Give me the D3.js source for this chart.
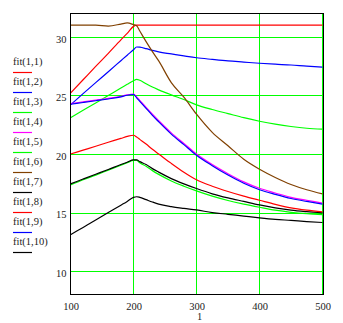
<!DOCTYPE html>
<html><head><meta charset="utf-8">
<script src="https://cdn.jsdelivr.net/npm/d3@7"></script>
<style>body{margin:0;background:#fff}svg{display:block}text{font-family:"Liberation Serif","DejaVu Serif",serif;fill:#222}</style>
</head><body><svg id="c" width="343" height="323"></svg>
<script>
const xs = [100,120,140,160,180,190,200,205,210,220,230,240,260,280,300,325,350,375,400,425,450,475,500];
const fit1 = [25.2,26.34,27.48,28.6,29.75,30.3,30.9,31,31,31,31,31,31,31,31,31,31,31,31,31,31,31,31];
const fit2 = [24.2,25.16,26.1,27.03,27.97,28.44,28.9,29.14,29.12,29.0,28.85,28.72,28.55,28.38,28.22,28.08,27.95,27.85,27.75,27.67,27.6,27.5,27.42];
const fit3 = [23.1,23.73,24.36,25.0,25.63,25.95,26.26,26.38,26.3,26.0,25.72,25.48,25.05,24.65,24.2,23.8,23.45,23.1,22.8,22.55,22.35,22.2,22.12];
const fit4 = [24.3,24.45,24.6,24.75,24.92,25.05,25.12,24.88,24.58,23.98,23.4,22.85,21.8,20.9,20.0,19.1,18.32,17.62,17.07,16.67,16.3,16.05,15.8];
const fit5 = [17.35,17.8,18.2,18.62,19.04,19.25,19.45,19.45,19.25,18.95,18.58,18.26,17.7,17.25,16.85,16.4,16.03,15.72,15.45,15.2,15.02,14.9,14.83];
const fit6 = [31.0,31.0,31.0,30.93,31.1,31.2,31.05,30.95,30.5,29.6,28.75,27.95,26.1,24.85,23.4,21.85,20.7,19.55,18.7,18.0,17.4,16.95,16.6];
const fit7 = [17.45,17.86,18.27,18.68,19.1,19.3,19.5,19.5,19.35,19.1,18.75,18.45,17.9,17.45,17.05,16.6,16.25,15.95,15.65,15.4,15.2,15.07,14.97];
const fit8 = [20.0,20.33,20.66,21.0,21.33,21.5,21.6,21.45,21.25,20.85,20.4,20.0,19.2,18.45,17.8,17.25,16.8,16.4,16.05,15.7,15.4,15.2,15.05];
const fit9 = [24.25,24.4,24.55,24.7,24.88,25.02,25.08,24.8,24.5,23.9,23.3,22.75,21.7,20.8,19.9,19.0,18.2,17.5,16.95,16.55,16.2,15.95,15.72];
const fit10 = [13.1,13.73,14.36,15.0,15.63,15.95,16.3,16.35,16.3,16.1,15.9,15.72,15.5,15.35,15.22,15.0,14.85,14.7,14.55,14.42,14.33,14.23,14.15];
const seriesNames = ["fit(1,1)","fit(1,2)","fit(1,3)","fit(1,4)","fit(1,5)","fit(1,6)","fit(1,7)","fit(1,8)","fit(1,9)","fit(1,10)"];
const seriesColors = ["#ff0000","#0000ff","#00ff00","#ff00ff","#00ff00","#804000","#000000","#ff0000","#0000ff","#000000"];
const xTicks = [100,200,300,400,500];
const yTicks = [10,15,20,25,30];
const xLabel = "1";

const data = [fit1,fit2,fit3,fit4,fit5,fit6,fit7,fit8,fit9,fit10];
const svg = d3.select("#c");
const L=70.5, R=322.5, T=13.5, B=294.5;
const x = d3.scaleLinear().domain([100,500]).range([L,R]);
const y = d3.scaleLinear().domain([8,32]).range([B,T]);

const grid = svg.append("g").attr("stroke","#00ff00").attr("stroke-width",1).attr("shape-rendering","crispEdges");
xTicks.filter(v=>v>100).forEach(v=>grid.append("line").attr("x1",Math.round(x(v))-0.5).attr("x2",Math.round(x(v))-0.5).attr("y1",T).attr("y2",B));
yTicks.forEach(v=>grid.append("line").attr("x1",L).attr("x2",R).attr("y1",Math.round(y(v))+0.5).attr("y2",Math.round(y(v))+0.5));

const line = d3.line().x((d,i)=>x(xs[i])).y(d=>y(d)).curve(d3.curveMonotoneX);
data.forEach((s,k)=>{
  svg.append("path").attr("d",line(s)).attr("fill","none").attr("stroke",seriesColors[k]).attr("stroke-width",1.2);
});

svg.append("path").attr("d",`M${L},${B}V${T}H${R+1}V${B}H${L}`).attr("fill","none").attr("stroke","#000").attr("stroke-width",1).attr("shape-rendering","crispEdges");

const xa = svg.append("g").attr("transform",`translate(0,${B})`).call(d3.axisBottom(x).tickValues(xTicks).tickSize(0).tickPadding(8));
xa.select(".domain").remove();
xa.selectAll("text").attr("font-family","Liberation Serif").attr("font-size",10.5).attr("fill","#222");
const ya = svg.append("g").attr("transform",`translate(${L},0)`).call(d3.axisLeft(y).tickValues(yTicks).tickSize(0).tickPadding(4));
ya.select(".domain").remove();
ya.selectAll("text").attr("font-family","Liberation Serif").attr("font-size",10.5).attr("fill","#222").attr("dy","0.5em");

svg.append("text").attr("x",(L+R)/2+3).attr("y",320).attr("text-anchor","middle").attr("font-size",10.5).text(xLabel);

const lg = svg.append("g");
seriesNames.forEach((n,i)=>{
  const yy = 72 + i*20.05;
  lg.append("text").attr("x",13).attr("y",yy-7.5).attr("font-size",10.5).text(n);
  lg.append("line").attr("x1",13).attr("x2",32).attr("y1",Math.round(yy)+0.5).attr("y2",Math.round(yy)+0.5).attr("stroke",seriesColors[i]).attr("stroke-width",1.2);
});
</script></body></html>
